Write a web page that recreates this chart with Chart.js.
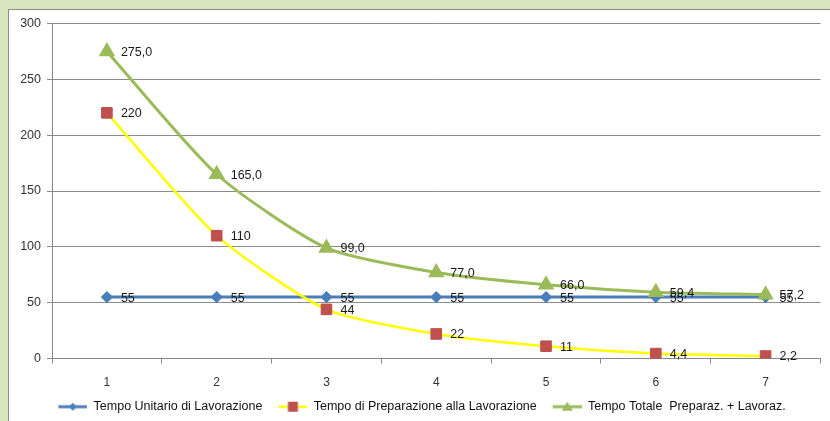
<!DOCTYPE html>
<html>
<head>
<meta charset="utf-8">
<script src="https://cdn.jsdelivr.net/npm/chart.js@4/dist/chart.umd.min.js"></script>
<style>
  html, body { margin: 0; padding: 0; }
  body { width: 830px; height: 421px; background: #d8e4bc; position: relative; overflow: hidden; }
  #box { position: absolute; left: 8px; top: 9px; width: 822px; height: 412px; background: #fff;
         border-left: 1px solid #8c8c8c; border-top: 1px solid #8c8c8c; box-sizing: border-box; }
  #wrap { position: absolute; left: 0; top: 0; width: 821px; height: 411px; }
</style>
</head>
<body>
<div id="box"><div id="wrap"><canvas id="chart"></canvas></div></div>
<script>
// dati
const categorie = ['1', '2', '3', '4', '5', '6', '7'];
const tempoUnitario = [55, 55, 55, 55, 55, 55, 55];
const tempoPreparazione = [220, 110, 44, 22, 11, 4.4, 2.2];
const tempoTotale = [275, 165, 99, 77, 66, 59.4, 57.2];
const nomiSerie = ['Tempo Unitario di Lavorazione', 'Tempo di Preparazione alla Lavorazione', 'Tempo Totale  Preparaz. + Lavoraz.'];

const FONT = '"Liberation Sans", Arial, sans-serif';

function formatta(v, decimali) {
  if (decimali === 1) return v.toFixed(1).replace('.', ',');
  return String(v).replace('.', ',');
}

// piccola icona per la legenda: margine trasparente + linea + marker
function iconaLegenda(lineColor, lineWidth, marker, markerColor) {
  const c = document.createElement('canvas');
  c.width = 42; c.height = 12;
  const g = c.getContext('2d');
  g.strokeStyle = lineColor; g.lineWidth = lineWidth;
  g.beginPath(); g.moveTo(13, 6); g.lineTo(42, 6); g.stroke();
  g.fillStyle = markerColor;
  g.beginPath();
  const cx = 27.5;
  if (marker === 'diamond') {
    g.moveTo(cx, 2); g.lineTo(cx + 4, 6); g.lineTo(cx, 10); g.lineTo(cx - 4, 6);
  } else if (marker === 'square') {
    g.rect(cx - 5, 1, 10, 10);
  } else {
    g.moveTo(cx, 1); g.lineTo(cx + 5.5, 10); g.lineTo(cx - 5.5, 10);
  }
  g.closePath(); g.fill();
  return c;
}

const etichettePlugin = {
  id: 'etichette',
  afterDatasetsDraw(chart) {
    const ctx = chart.ctx;
    ctx.save();
    ctx.font = '12.5px ' + FONT;
    ctx.fillStyle = '#1a1a1a';
    ctx.textAlign = 'left';
    ctx.textBaseline = 'middle';
    chart.data.datasets.forEach((ds, i) => {
      const meta = chart.getDatasetMeta(i);
      meta.data.forEach((pt, j) => {
        ctx.fillText(formatta(ds.data[j], ds.decimali), pt.x + 14, pt.y + 1);
      });
    });
    ctx.restore();
  }
};

new Chart(document.getElementById('chart'), {
  type: 'line',
  data: {
    labels: categorie,
    datasets: [{
      label: nomiSerie[0],
      data: tempoUnitario,
      decimali: 0,
      borderColor: '#4a7ebb',
      backgroundColor: '#4a7ebb',
      borderWidth: 3,
      pointStyle: 'rectRot',
      pointRadius: 4,
      pointHoverRadius: 4,
      tension: 0,
      order: 3
    }, {
      label: nomiSerie[1],
      data: tempoPreparazione,
      decimali: 0,
      borderColor: '#ffff00',
      backgroundColor: '#c0504d',
      pointBorderColor: '#c0504d',
      borderWidth: 2.5,
      pointStyle: 'rect',
      pointRadius: 7.5,
      pointHoverRadius: 7.5,
      pointBorderWidth: 1,
      tension: 0.22,
      order: 2
    }, {
      label: nomiSerie[2],
      data: tempoTotale,
      decimali: 1,
      borderColor: '#9bbb59',
      backgroundColor: '#9bbb59',
      borderWidth: 3,
      pointStyle: 'triangle',
      pointRadius: 6.5,
      pointHoverRadius: 6.5,
      tension: 0.22,
      order: 1
    }]
  },
  options: {
    responsive: true,
    maintainAspectRatio: false,
    animation: false,
    layout: { padding: { top: 12, right: 8, left: 0, bottom: -2 } },
    plugins: {
      tooltip: { enabled: false },
      legend: {
        position: 'bottom',
        labels: {
          color: '#111',
          font: { family: FONT, size: 12.5 },
          usePointStyle: true,
          pointStyleWidth: 42,
          boxHeight: 12,
          padding: 3,
          generateLabels(chart) {
            const icone = [
              iconaLegenda('#4a7ebb', 3, 'diamond', '#4a7ebb'),
              iconaLegenda('#ffff00', 2.5, 'square', '#c0504d'),
              iconaLegenda('#9bbb59', 3, 'triangle', '#9bbb59')
            ];
            return chart.data.datasets.map((ds, i) => ({
              text: ds.label,
              pointStyle: icone[i],
              datasetIndex: i,
              fontColor: '#111',
              lineWidth: 0,
              strokeStyle: 'transparent',
              fillStyle: 'transparent'
            }));
          }
        }
      }
    },
    scales: {
      x: {
        offset: true,
        grid: { offset: true, drawOnChartArea: false, drawTicks: true, tickLength: 5, color: '#868686' },
        border: { display: true, color: '#868686', width: 1 },
        ticks: { color: '#333', font: { family: FONT, size: 12 }, padding: 12 },
        afterFit(scale) { scale.height = 39; }
      },
      y: {
        min: 0,
        max: 300,
        ticks: { stepSize: 50, color: '#333', font: { family: FONT, size: 12.5 }, padding: 6 },
        grid: { color: '#8c8c8c', tickLength: 5, drawTicks: true },
        border: { display: true, color: '#868686', width: 1 },
        afterFit(scale) { scale.width = 43; }
      }
    }
  },
  plugins: [etichettePlugin]
});
</script>
</body>
</html>
